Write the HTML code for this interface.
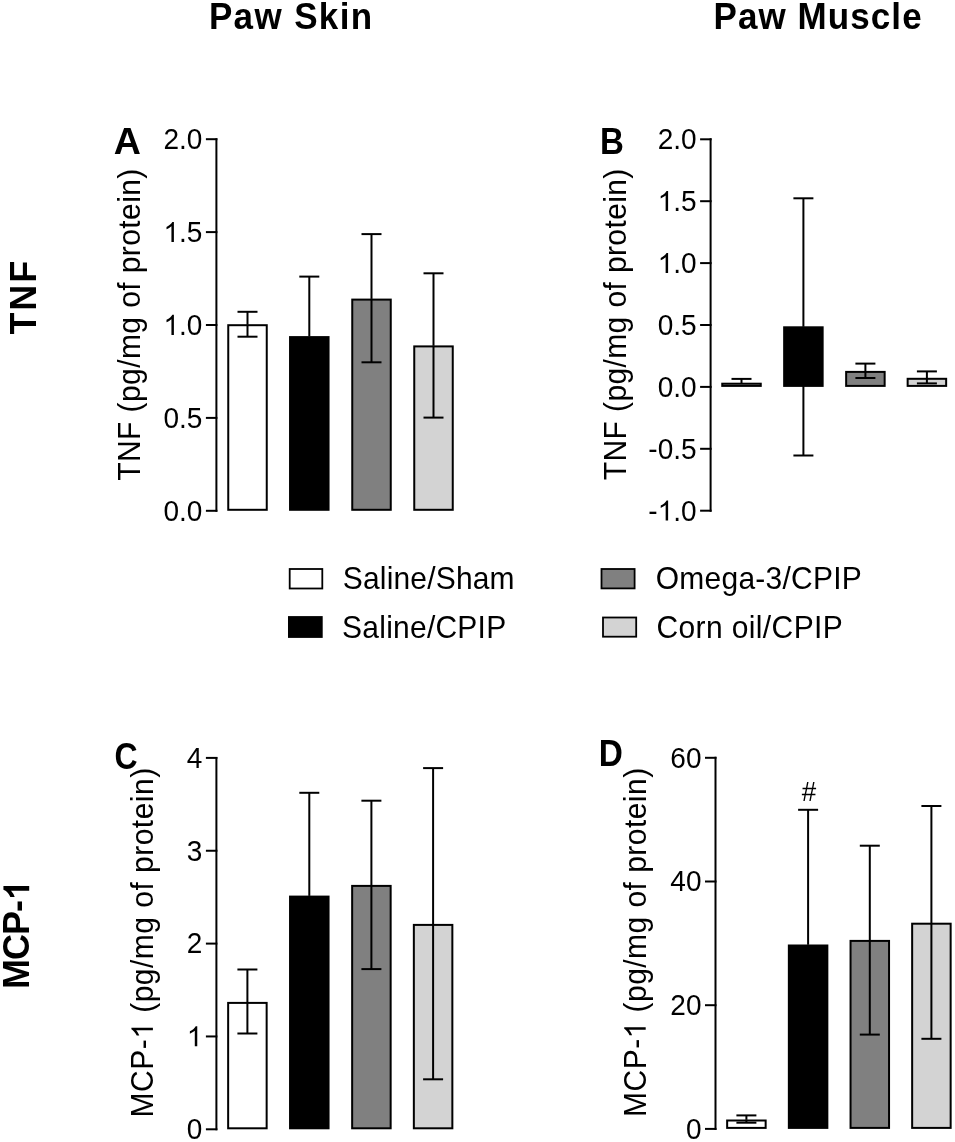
<!DOCTYPE html>
<html><head><meta charset="utf-8"><style>
html,body{margin:0;padding:0;background:#fff;width:955px;height:1142px;overflow:hidden}
svg{display:block;will-change:transform}
text{font-family:"Liberation Sans", sans-serif;fill:#000}
.one{fill-opacity:0}
</style></head><body>
<svg width="955" height="1142" viewBox="0 0 955 1142">
<line x1="216.40" y1="138.20" x2="216.40" y2="511.80" stroke="#000" stroke-width="2"/>
<line x1="205.90" y1="139.20" x2="217.40" y2="139.20" stroke="#000" stroke-width="2"/>
<line x1="205.90" y1="232.10" x2="217.40" y2="232.10" stroke="#000" stroke-width="2"/>
<line x1="205.90" y1="325.00" x2="217.40" y2="325.00" stroke="#000" stroke-width="2"/>
<line x1="205.90" y1="417.90" x2="217.40" y2="417.90" stroke="#000" stroke-width="2"/>
<line x1="205.90" y1="510.80" x2="217.40" y2="510.80" stroke="#000" stroke-width="2"/>
<rect x="228.25" y="325.20" width="38.50" height="184.60" fill="#ffffff" stroke="#000" stroke-width="2"/>
<line x1="247.50" y1="311.80" x2="247.50" y2="324.50" stroke="#000" stroke-width="2"/>
<line x1="237.50" y1="311.80" x2="257.50" y2="311.80" stroke="#000" stroke-width="2"/>
<line x1="247.50" y1="324.50" x2="247.50" y2="336.70" stroke="#000" stroke-width="2"/>
<line x1="237.50" y1="336.70" x2="257.50" y2="336.70" stroke="#000" stroke-width="2"/>
<rect x="290.05" y="337.10" width="38.50" height="172.70" fill="#000000" stroke="#000" stroke-width="2"/>
<line x1="309.30" y1="276.60" x2="309.30" y2="336.40" stroke="#000" stroke-width="2"/>
<line x1="299.30" y1="276.60" x2="319.30" y2="276.60" stroke="#000" stroke-width="2"/>
<rect x="352.25" y="299.60" width="38.50" height="210.20" fill="#808080" stroke="#000" stroke-width="2"/>
<line x1="371.50" y1="234.10" x2="371.50" y2="298.90" stroke="#000" stroke-width="2"/>
<line x1="361.50" y1="234.10" x2="381.50" y2="234.10" stroke="#000" stroke-width="2"/>
<line x1="371.50" y1="298.90" x2="371.50" y2="362.30" stroke="#000" stroke-width="2"/>
<line x1="361.50" y1="362.30" x2="381.50" y2="362.30" stroke="#000" stroke-width="2"/>
<rect x="414.25" y="346.40" width="38.50" height="163.40" fill="#d3d3d3" stroke="#000" stroke-width="2"/>
<line x1="433.50" y1="273.30" x2="433.50" y2="345.70" stroke="#000" stroke-width="2"/>
<line x1="423.50" y1="273.30" x2="443.50" y2="273.30" stroke="#000" stroke-width="2"/>
<line x1="433.50" y1="345.70" x2="433.50" y2="417.60" stroke="#000" stroke-width="2"/>
<line x1="423.50" y1="417.60" x2="443.50" y2="417.60" stroke="#000" stroke-width="2"/>
<line x1="710.60" y1="138.30" x2="710.60" y2="511.70" stroke="#000" stroke-width="2"/>
<line x1="700.10" y1="139.30" x2="711.60" y2="139.30" stroke="#000" stroke-width="2"/>
<line x1="700.10" y1="201.20" x2="711.60" y2="201.20" stroke="#000" stroke-width="2"/>
<line x1="700.10" y1="263.10" x2="711.60" y2="263.10" stroke="#000" stroke-width="2"/>
<line x1="700.10" y1="325.00" x2="711.60" y2="325.00" stroke="#000" stroke-width="2"/>
<line x1="700.10" y1="386.90" x2="711.60" y2="386.90" stroke="#000" stroke-width="2"/>
<line x1="700.10" y1="448.80" x2="711.60" y2="448.80" stroke="#000" stroke-width="2"/>
<line x1="700.10" y1="510.70" x2="711.60" y2="510.70" stroke="#000" stroke-width="2"/>
<rect x="722.25" y="383.70" width="38.50" height="2.20" fill="#ffffff" stroke="#000" stroke-width="2"/>
<line x1="741.50" y1="378.90" x2="741.50" y2="383.00" stroke="#000" stroke-width="2"/>
<line x1="731.50" y1="378.90" x2="751.50" y2="378.90" stroke="#000" stroke-width="2"/>
<rect x="784.15" y="327.30" width="38.50" height="58.60" fill="#000000" stroke="#000" stroke-width="2"/>
<line x1="803.40" y1="198.30" x2="803.40" y2="326.60" stroke="#000" stroke-width="2"/>
<line x1="793.40" y1="198.30" x2="813.40" y2="198.30" stroke="#000" stroke-width="2"/>
<line x1="803.40" y1="326.60" x2="803.40" y2="455.50" stroke="#000" stroke-width="2"/>
<line x1="793.40" y1="455.50" x2="813.40" y2="455.50" stroke="#000" stroke-width="2"/>
<rect x="846.15" y="371.90" width="38.50" height="14.00" fill="#808080" stroke="#000" stroke-width="2"/>
<line x1="865.40" y1="363.60" x2="865.40" y2="371.20" stroke="#000" stroke-width="2"/>
<line x1="855.40" y1="363.60" x2="875.40" y2="363.60" stroke="#000" stroke-width="2"/>
<line x1="865.40" y1="371.20" x2="865.40" y2="378.00" stroke="#000" stroke-width="2"/>
<line x1="855.40" y1="378.00" x2="875.40" y2="378.00" stroke="#000" stroke-width="2"/>
<rect x="907.65" y="378.80" width="38.50" height="7.10" fill="#d3d3d3" stroke="#000" stroke-width="2"/>
<line x1="926.90" y1="371.40" x2="926.90" y2="378.10" stroke="#000" stroke-width="2"/>
<line x1="916.90" y1="371.40" x2="936.90" y2="371.40" stroke="#000" stroke-width="2"/>
<line x1="926.90" y1="378.10" x2="926.90" y2="383.40" stroke="#000" stroke-width="2"/>
<line x1="916.90" y1="383.40" x2="936.90" y2="383.40" stroke="#000" stroke-width="2"/>
<line x1="216.40" y1="756.90" x2="216.40" y2="1130.30" stroke="#000" stroke-width="2"/>
<line x1="205.90" y1="757.90" x2="217.40" y2="757.90" stroke="#000" stroke-width="2"/>
<line x1="205.90" y1="850.75" x2="217.40" y2="850.75" stroke="#000" stroke-width="2"/>
<line x1="205.90" y1="943.60" x2="217.40" y2="943.60" stroke="#000" stroke-width="2"/>
<line x1="205.90" y1="1036.45" x2="217.40" y2="1036.45" stroke="#000" stroke-width="2"/>
<line x1="205.90" y1="1129.30" x2="217.40" y2="1129.30" stroke="#000" stroke-width="2"/>
<rect x="228.15" y="1002.90" width="38.50" height="125.40" fill="#ffffff" stroke="#000" stroke-width="2"/>
<line x1="247.40" y1="969.50" x2="247.40" y2="1002.20" stroke="#000" stroke-width="2"/>
<line x1="237.40" y1="969.50" x2="257.40" y2="969.50" stroke="#000" stroke-width="2"/>
<line x1="247.40" y1="1002.20" x2="247.40" y2="1033.50" stroke="#000" stroke-width="2"/>
<line x1="237.40" y1="1033.50" x2="257.40" y2="1033.50" stroke="#000" stroke-width="2"/>
<rect x="290.05" y="896.60" width="38.50" height="231.70" fill="#000000" stroke="#000" stroke-width="2"/>
<line x1="309.30" y1="792.80" x2="309.30" y2="895.90" stroke="#000" stroke-width="2"/>
<line x1="299.30" y1="792.80" x2="319.30" y2="792.80" stroke="#000" stroke-width="2"/>
<rect x="352.15" y="885.90" width="38.50" height="242.40" fill="#808080" stroke="#000" stroke-width="2"/>
<line x1="371.40" y1="800.70" x2="371.40" y2="885.20" stroke="#000" stroke-width="2"/>
<line x1="361.40" y1="800.70" x2="381.40" y2="800.70" stroke="#000" stroke-width="2"/>
<line x1="371.40" y1="885.20" x2="371.40" y2="969.10" stroke="#000" stroke-width="2"/>
<line x1="361.40" y1="969.10" x2="381.40" y2="969.10" stroke="#000" stroke-width="2"/>
<rect x="413.85" y="924.90" width="38.50" height="203.40" fill="#d3d3d3" stroke="#000" stroke-width="2"/>
<line x1="433.10" y1="768.10" x2="433.10" y2="924.20" stroke="#000" stroke-width="2"/>
<line x1="423.10" y1="768.10" x2="443.10" y2="768.10" stroke="#000" stroke-width="2"/>
<line x1="433.10" y1="924.20" x2="433.10" y2="1079.30" stroke="#000" stroke-width="2"/>
<line x1="423.10" y1="1079.30" x2="443.10" y2="1079.30" stroke="#000" stroke-width="2"/>
<line x1="715.50" y1="756.80" x2="715.50" y2="1129.90" stroke="#000" stroke-width="2"/>
<line x1="705.00" y1="757.80" x2="716.50" y2="757.80" stroke="#000" stroke-width="2"/>
<line x1="705.00" y1="881.50" x2="716.50" y2="881.50" stroke="#000" stroke-width="2"/>
<line x1="705.00" y1="1005.20" x2="716.50" y2="1005.20" stroke="#000" stroke-width="2"/>
<line x1="705.00" y1="1128.90" x2="716.50" y2="1128.90" stroke="#000" stroke-width="2"/>
<rect x="727.15" y="1120.50" width="38.50" height="7.40" fill="#ffffff" stroke="#000" stroke-width="2"/>
<line x1="746.40" y1="1115.40" x2="746.40" y2="1119.80" stroke="#000" stroke-width="2"/>
<line x1="736.40" y1="1115.40" x2="756.40" y2="1115.40" stroke="#000" stroke-width="2"/>
<line x1="746.40" y1="1119.80" x2="746.40" y2="1122.70" stroke="#000" stroke-width="2"/>
<line x1="736.40" y1="1122.70" x2="756.40" y2="1122.70" stroke="#000" stroke-width="2"/>
<rect x="788.85" y="945.50" width="38.50" height="182.40" fill="#000000" stroke="#000" stroke-width="2"/>
<line x1="808.10" y1="809.80" x2="808.10" y2="944.80" stroke="#000" stroke-width="2"/>
<line x1="798.10" y1="809.80" x2="818.10" y2="809.80" stroke="#000" stroke-width="2"/>
<rect x="850.55" y="940.90" width="38.50" height="187.00" fill="#808080" stroke="#000" stroke-width="2"/>
<line x1="869.80" y1="845.70" x2="869.80" y2="940.20" stroke="#000" stroke-width="2"/>
<line x1="859.80" y1="845.70" x2="879.80" y2="845.70" stroke="#000" stroke-width="2"/>
<line x1="869.80" y1="940.20" x2="869.80" y2="1034.60" stroke="#000" stroke-width="2"/>
<line x1="859.80" y1="1034.60" x2="879.80" y2="1034.60" stroke="#000" stroke-width="2"/>
<rect x="912.15" y="923.70" width="38.50" height="204.20" fill="#d3d3d3" stroke="#000" stroke-width="2"/>
<line x1="931.40" y1="806.00" x2="931.40" y2="923.00" stroke="#000" stroke-width="2"/>
<line x1="921.40" y1="806.00" x2="941.40" y2="806.00" stroke="#000" stroke-width="2"/>
<line x1="931.40" y1="923.00" x2="931.40" y2="1038.80" stroke="#000" stroke-width="2"/>
<line x1="921.40" y1="1038.80" x2="941.40" y2="1038.80" stroke="#000" stroke-width="2"/>
<rect x="289.70" y="569.00" width="32.60" height="19.50" fill="#ffffff" stroke="#000" stroke-width="1.8"/>
<rect x="288.90" y="617.00" width="32.90" height="20.00" fill="#000000" stroke="#000" stroke-width="1.8"/>
<rect x="601.50" y="569.00" width="33.10" height="19.40" fill="#808080" stroke="#000" stroke-width="1.8"/>
<rect x="603.00" y="617.50" width="33.20" height="19.20" fill="#d3d3d3" stroke="#000" stroke-width="1.8"/>
<text x="208.90" y="28.50" font-size="35" font-weight="bold" transform="matrix(1 0 0 1.06 0 -1.710)" textLength="163.27" lengthAdjust="spacing">Paw Skin</text>
<text x="713.60" y="28.70" font-size="35" font-weight="bold" transform="matrix(1 0 0 1.06 0 -1.722)" textLength="208.02" lengthAdjust="spacing">Paw Muscle</text>
<text x="36.10" y="334.50" font-size="36" font-weight="bold" transform="rotate(-90 36.10 334.50) matrix(1 0 0 1.04 0 -13.380)" textLength="73.68" lengthAdjust="spacing">TNF</text>
<text x="29.20" y="988.90" font-size="36" font-weight="bold" transform="rotate(-90 29.20 988.90) matrix(1 0 0 1.04 0 -39.556)" textLength="107.92" lengthAdjust="spacing">MCP-<tspan class="one">1</tspan></text>
<text x="113.70" y="154.50" font-size="35" font-weight="bold" transform="matrix(1 0 0 1.04 0 -6.180)" textLength="27.15" lengthAdjust="spacingAndGlyphs">A</text>
<text x="599.90" y="153.70" font-size="35" font-weight="bold" transform="matrix(1 0 0 1.04 0 -6.148)" textLength="23.90" lengthAdjust="spacingAndGlyphs">B</text>
<text x="114.40" y="768.60" font-size="35" font-weight="bold" transform="matrix(1 0 0 1.04 0 -30.744)" textLength="23.08" lengthAdjust="spacingAndGlyphs">C</text>
<text x="598.70" y="766.40" font-size="35" font-weight="bold" transform="matrix(1 0 0 1.04 0 -30.656)" textLength="24.13" lengthAdjust="spacingAndGlyphs">D</text>
<text x="139.60" y="480.70" font-size="30" font-weight="normal" transform="rotate(-90 139.60 480.70) matrix(1 0 0 1.04 0 -19.228)" textLength="312.04" lengthAdjust="spacing">TNF (pg/mg of protein)</text>
<text x="625.80" y="480.20" font-size="30" font-weight="normal" transform="rotate(-90 625.80 480.20) matrix(1 0 0 1.04 0 -19.208)" textLength="311.54" lengthAdjust="spacing">TNF (pg/mg of protein)</text>
<text x="152.90" y="1117.40" font-size="30" font-weight="normal" transform="rotate(-90 152.90 1117.40) matrix(1 0 0 1.04 0 -44.696)" textLength="349.55" lengthAdjust="spacing">MCP-<tspan class="one">1</tspan> (pg/mg of protein)</text>
<text x="645.70" y="1116.90" font-size="30" font-weight="normal" transform="rotate(-90 645.70 1116.90) matrix(1 0 0 1.04 0 -44.676)" textLength="349.05" lengthAdjust="spacing">MCP-<tspan class="one">1</tspan> (pg/mg of protein)</text>
<text x="342.80" y="589.40" font-size="30" font-weight="normal" transform="matrix(1 0 0 1.04 0 -23.576)" textLength="171.81" lengthAdjust="spacing">Saline/Sham</text>
<text x="342.10" y="637.90" font-size="30" font-weight="normal" transform="matrix(1 0 0 1.04 0 -25.516)" textLength="164.05" lengthAdjust="spacing">Saline/CPIP</text>
<text x="655.80" y="588.60" font-size="30" font-weight="normal" transform="matrix(1 0 0 1.04 0 -23.544)" textLength="205.92" lengthAdjust="spacing">Omega-3/CPIP</text>
<text x="656.40" y="638.20" font-size="30" font-weight="normal" transform="matrix(1 0 0 1.04 0 -25.528)" textLength="186.33" lengthAdjust="spacing">Corn oil/CPIP</text>
<text x="163.46" y="149.10" font-size="28" transform="matrix(1 0 0 1.04 0 -5.964)" textLength="38.94" lengthAdjust="spacingAndGlyphs">2.0</text>
<text x="163.46" y="242.00" font-size="28" transform="matrix(1 0 0 1.04 0 -9.680)" textLength="38.94" lengthAdjust="spacingAndGlyphs"><tspan class="one">1</tspan>.5</text>
<text x="163.46" y="334.90" font-size="28" transform="matrix(1 0 0 1.04 0 -13.396)" textLength="38.94" lengthAdjust="spacingAndGlyphs"><tspan class="one">1</tspan>.0</text>
<text x="163.46" y="427.80" font-size="28" transform="matrix(1 0 0 1.04 0 -17.112)" textLength="38.94" lengthAdjust="spacingAndGlyphs">0.5</text>
<text x="163.46" y="520.70" font-size="28" transform="matrix(1 0 0 1.04 0 -20.828)" textLength="38.94" lengthAdjust="spacingAndGlyphs">0.0</text>
<text x="657.66" y="149.20" font-size="28" transform="matrix(1 0 0 1.04 0 -5.968)" textLength="38.94" lengthAdjust="spacingAndGlyphs">2.0</text>
<text x="657.66" y="211.10" font-size="28" transform="matrix(1 0 0 1.04 0 -8.444)" textLength="38.94" lengthAdjust="spacingAndGlyphs"><tspan class="one">1</tspan>.5</text>
<text x="657.66" y="273.00" font-size="28" transform="matrix(1 0 0 1.04 0 -10.920)" textLength="38.94" lengthAdjust="spacingAndGlyphs"><tspan class="one">1</tspan>.0</text>
<text x="657.66" y="334.90" font-size="28" transform="matrix(1 0 0 1.04 0 -13.396)" textLength="38.94" lengthAdjust="spacingAndGlyphs">0.5</text>
<text x="657.66" y="396.80" font-size="28" transform="matrix(1 0 0 1.04 0 -15.872)" textLength="38.94" lengthAdjust="spacingAndGlyphs">0.0</text>
<text x="648.35" y="458.70" font-size="28" transform="matrix(1 0 0 1.04 0 -18.348)" textLength="48.25" lengthAdjust="spacingAndGlyphs">-0.5</text>
<text x="648.35" y="520.60" font-size="28" transform="matrix(1 0 0 1.04 0 -20.824)" textLength="48.25" lengthAdjust="spacingAndGlyphs">-<tspan class="one">1</tspan>.0</text>
<text x="186.82" y="767.80" font-size="28" transform="matrix(1 0 0 1.04 0 -30.712)" textLength="15.58" lengthAdjust="spacingAndGlyphs">4</text>
<text x="186.82" y="860.65" font-size="28" transform="matrix(1 0 0 1.04 0 -34.426)" textLength="15.58" lengthAdjust="spacingAndGlyphs">3</text>
<text x="186.82" y="953.50" font-size="28" transform="matrix(1 0 0 1.04 0 -38.140)" textLength="15.58" lengthAdjust="spacingAndGlyphs">2</text>
<text x="186.82" y="1046.35" font-size="28" transform="matrix(1 0 0 1.04 0 -41.854)" textLength="15.58" lengthAdjust="spacingAndGlyphs"><tspan class="one">1</tspan></text>
<text x="186.82" y="1139.20" font-size="28" transform="matrix(1 0 0 1.04 0 -45.568)" textLength="15.58" lengthAdjust="spacingAndGlyphs">0</text>
<text x="670.34" y="767.70" font-size="28" transform="matrix(1 0 0 1.04 0 -30.708)" textLength="31.16" lengthAdjust="spacingAndGlyphs">60</text>
<text x="670.34" y="891.40" font-size="28" transform="matrix(1 0 0 1.04 0 -35.656)" textLength="31.16" lengthAdjust="spacingAndGlyphs">40</text>
<text x="670.34" y="1015.10" font-size="28" transform="matrix(1 0 0 1.04 0 -40.604)" textLength="31.16" lengthAdjust="spacingAndGlyphs">20</text>
<text x="685.92" y="1138.80" font-size="28" transform="matrix(1 0 0 1.04 0 -45.552)" textLength="15.58" lengthAdjust="spacingAndGlyphs">0</text>
<text x="808.9" y="801.2" font-size="26" text-anchor="middle" transform="matrix(1 0 0 1.04 0 -32.048)">#</text>
<path transform="rotate(-90 29.20 988.90) matrix(1 0 0 1.04 0 -39.556) translate(117.10 988.90) scale(0.01757 -0.01690)" d="M856 0H582V1033Q432 893 228 826V1075Q335 1110 461 1208Q587 1306 634 1466H856Z"/>
<path transform="rotate(-90 152.90 1117.40) matrix(1 0 0 1.04 0 -44.696) translate(231.50 1117.40) scale(0.01464 -0.01409)" d="M763 0H583V1147Q518 1085 413 1023Q308 961 223 930V1104Q375 1175 489 1276Q603 1377 650 1466H763Z"/>
<path transform="rotate(-90 645.70 1116.90) matrix(1 0 0 1.04 0 -44.676) translate(724.21 1116.90) scale(0.01464 -0.01409)" d="M763 0H583V1147Q518 1085 413 1023Q308 961 223 930V1104Q375 1175 489 1276Q603 1377 650 1466H763Z"/>
<path transform="matrix(1 0 0 1.04 0 -9.680) translate(163.46 242.00) scale(0.01368 -0.01315)" d="M763 0H583V1147Q518 1085 413 1023Q308 961 223 930V1104Q375 1175 489 1276Q603 1377 650 1466H763Z"/>
<path transform="matrix(1 0 0 1.04 0 -13.396) translate(163.46 334.90) scale(0.01368 -0.01315)" d="M763 0H583V1147Q518 1085 413 1023Q308 961 223 930V1104Q375 1175 489 1276Q603 1377 650 1466H763Z"/>
<path transform="matrix(1 0 0 1.04 0 -8.444) translate(657.66 211.10) scale(0.01368 -0.01315)" d="M763 0H583V1147Q518 1085 413 1023Q308 961 223 930V1104Q375 1175 489 1276Q603 1377 650 1466H763Z"/>
<path transform="matrix(1 0 0 1.04 0 -10.920) translate(657.66 273.00) scale(0.01368 -0.01315)" d="M763 0H583V1147Q518 1085 413 1023Q308 961 223 930V1104Q375 1175 489 1276Q603 1377 650 1466H763Z"/>
<path transform="matrix(1 0 0 1.04 0 -20.824) translate(657.68 520.60) scale(0.01368 -0.01315)" d="M763 0H583V1147Q518 1085 413 1023Q308 961 223 930V1104Q375 1175 489 1276Q603 1377 650 1466H763Z"/>
<path transform="matrix(1 0 0 1.04 0 -41.854) translate(186.82 1046.35) scale(0.01368 -0.01315)" d="M763 0H583V1147Q518 1085 413 1023Q308 961 223 930V1104Q375 1175 489 1276Q603 1377 650 1466H763Z"/>
</svg>
</body></html>
